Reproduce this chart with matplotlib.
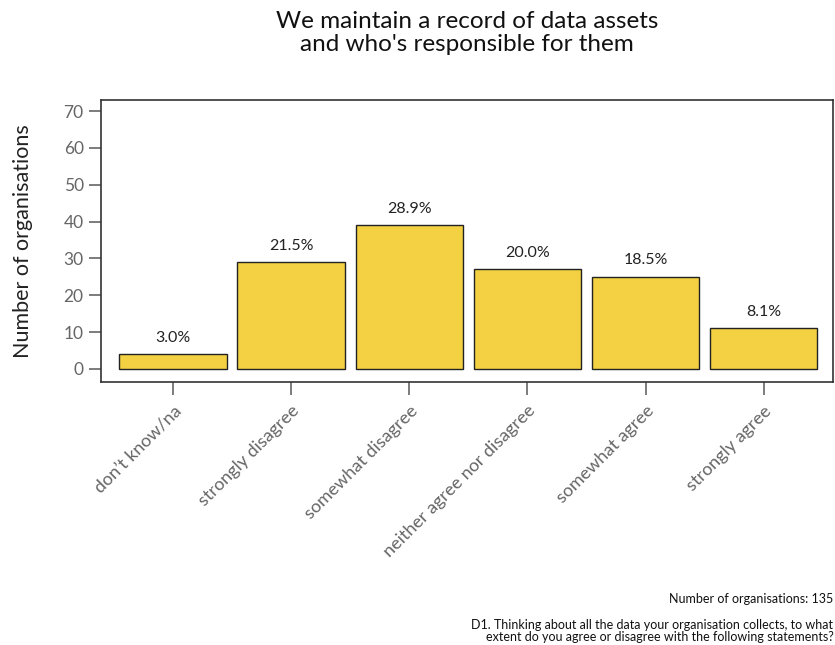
import matplotlib
matplotlib.use('Agg')
import matplotlib.pyplot as plt

categories = ['don\u2019t know/na', 'strongly disagree', 'somewhat disagree',
              'neither agree nor disagree', 'somewhat agree', 'strongly agree']
counts = [4, 29, 39, 27, 25, 11]
total = 135
pct_labels = ['3.0%', '21.5%', '28.9%', '20.0%', '18.5%', '8.1%']

plt.rcParams['font.family'] = ['Lato', 'DejaVu Sans']

fig = plt.figure(figsize=(8.35, 6.45), dpi=100)
ax = fig.add_axes([0.121, 0.408, 0.877, 0.437])

x = range(len(categories))
ax.bar(x, counts, width=0.91, color='#F4D142', edgecolor='#222222', linewidth=1.0)
for i, (c, lab) in enumerate(zip(counts, pct_labels)):
    ax.text(i, c + 2.6, lab, ha='center', va='bottom', fontsize=11.5, color='#222222')

ax.set_xlim(-0.61, 5.59)
ax.set_ylim(-3.5, 73)
ax.set_yticks(range(0, 71, 10))
ax.set_xticks(list(x))
ax.set_xticklabels(categories, rotation=45, ha='right', rotation_mode='anchor')
ax.tick_params(axis='both', colors='#666666', labelcolor='#666666', labelsize=12.5,
               length=9, width=1.2, direction='out')
ax.tick_params(axis='x', labelsize=13, pad=6)
for s in ax.spines.values():
    s.set_color('#333333')
    s.set_linewidth(1.2)

ax.set_ylabel('Number of organisations', fontsize=15.5, color='#222222', labelpad=22)
fig.text(0.559, 0.983, 'We maintain a record of data assets\nand who\'s responsible for them',
         ha='center', va='top', fontsize=17.5, color='#111111', linespacing=1.1)

fig.text(0.998, 0.062, 'Number of organisations: %d' % total, ha='right', va='bottom',
         fontsize=9, color='#111111')
fig.text(0.998, 0.003, 'D1. Thinking about all the data your organisation collects, to what\n'
         'extent do you agree or disagree with the following statements?',
         ha='right', va='bottom', fontsize=9, color='#111111', linespacing=1.0)

fig.savefig('out.png', dpi=100)
